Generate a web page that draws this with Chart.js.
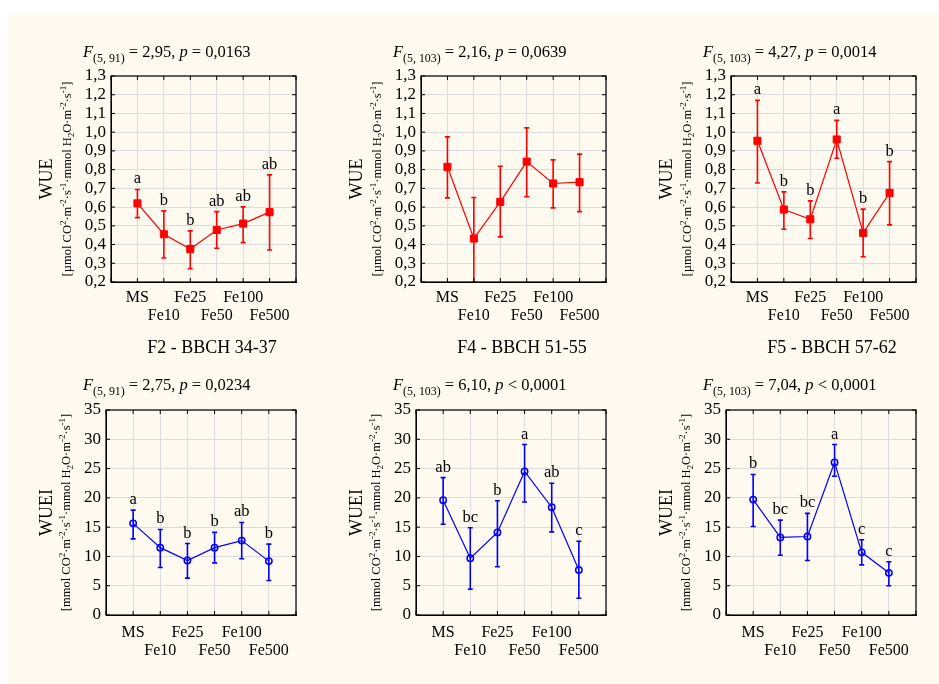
<!DOCTYPE html>
<html>
<head>
<meta charset="utf-8">
<script src="https://cdn.jsdelivr.net/npm/chart.js@4.4.1/dist/chart.umd.min.js"></script>
<style>
  body { margin: 0; background: #fff; width: 939px; height: 684px; position: relative; overflow: hidden; }
  #bg { position: absolute; left: 8px; top: 13px; width: 931px; height: 671px; background: #fefaf0; }
  canvas { position: absolute; }
</style>
</head>
<body>
<div id="bg"></div>
<canvas id="wueF2" width="310" height="335" style="left:0px;top:0px"></canvas>
<canvas id="wueF4" width="310" height="335" style="left:310px;top:0px"></canvas>
<canvas id="wueF5" width="310" height="335" style="left:620px;top:0px"></canvas>
<canvas id="wueiF2" width="310" height="349" style="left:0px;top:335px"></canvas>
<canvas id="wueiF4" width="310" height="349" style="left:310px;top:335px"></canvas>
<canvas id="wueiF5" width="310" height="349" style="left:620px;top:335px"></canvas>
<script>
const categories = ['MS', 'Fe10', 'Fe25', 'Fe50', 'Fe100', 'Fe500'];
const stages = ['F2 - BBCH 34-37', 'F4 - BBCH 51-55', 'F5 - BBCH 57-62'];

const wueTicks = [0.2, 0.3, 0.4, 0.5, 0.6, 0.7, 0.8, 0.9, 1.0, 1.1, 1.2, 1.3];
const wueiTicks = [0, 5, 10, 15, 20, 25, 30, 35];

// WUE (top row): means, lower / upper ends of the bars, group letters
const wueF2 = [0.62, 0.455, 0.376, 0.478, 0.512, 0.573];
const wueF2Lo = [0.544, 0.328, 0.271, 0.38, 0.41, 0.371];
const wueF2Hi = [0.694, 0.58, 0.473, 0.576, 0.601, 0.772];
const wueF2Groups = ['a', 'b', 'b', 'ab', 'ab', 'ab'];

const wueF4 = [0.815, 0.432, 0.628, 0.843, 0.726, 0.733];
const wueF4Lo = [0.649, 0.2, 0.441, 0.655, 0.596, 0.576];
const wueF4Hi = [0.975, 0.651, 0.818, 1.023, 0.852, 0.883];
const wueF4Groups = ['', '', '', '', '', ''];

const wueF5 = [0.954, 0.587, 0.535, 0.961, 0.462, 0.676];
const wueF5Lo = [0.729, 0.482, 0.432, 0.861, 0.335, 0.505];
const wueF5Hi = [1.17, 0.681, 0.633, 1.063, 0.589, 0.843];
const wueF5Groups = ['a', 'b', 'b', 'a', 'b', 'b'];

// WUEi (bottom row)
const wueiF2 = [15.65, 11.5, 9.3, 11.5, 12.7, 9.2];
const wueiF2Lo = [13.0, 8.1, 6.3, 8.9, 9.6, 5.9];
const wueiF2Hi = [17.9, 14.6, 12.2, 14.1, 15.8, 12.1];
const wueiF2Groups = ['a', 'b', 'b', 'b', 'ab', 'b'];

const wueiF4 = [19.6, 9.7, 14.1, 24.5, 18.4, 7.7];
const wueiF4Lo = [15.5, 4.4, 8.25, 19.3, 14.2, 2.85];
const wueiF4Hi = [23.45, 14.9, 19.5, 29.1, 22.5, 12.6];
const wueiF4Groups = ['ab', 'bc', 'b', 'a', 'ab', 'c'];

const wueiF5 = [19.7, 13.25, 13.4, 26.05, 10.7, 7.2];
const wueiF5Lo = [15.1, 10.2, 9.3, 23.7, 8.55, 5.0];
const wueiF5Hi = [24.0, 16.2, 17.35, 29.1, 12.85, 9.1];
const wueiF5Groups = ['b', 'bc', 'bc', 'a', 'c', 'c'];

// ANOVA results
const wueDf = ['5, 91', '5, 103', '5, 103'];
const wueF = ['2,95', '2,16', '4,27'];
const wueP = ['= 0,0163', '= 0,0639', '= 0,0014'];
const wueiDf = ['5, 91', '5, 103', '5, 103'];
const wueiF = ['2,75', '6,10', '7,04'];
const wueiP = ['= 0,0234', '< 0,0001', '< 0,0001'];

const SERIF = '"Liberation Serif", "Times New Roman", serif';
const gridColor = '#dcdcdc';

// draw text made of pieces: [text, kind] kind = n | i | sub | sup
function richWidth(ctx, segs, size) {
  let w = 0;
  segs.forEach(([t, k]) => {
    const fs = (k === 'sub' || k === 'sup') ? size * 0.72 : size;
    ctx.font = (k === 'i' ? 'italic ' : '') + fs + 'px ' + SERIF;
    w += ctx.measureText(t).width;
  });
  return w;
}
function drawRich(ctx, segs, x, y, size) {
  let cx = x;
  segs.forEach(([t, k]) => {
    let fs = size, dy = 0;
    if (k === 'sub') { fs = size * 0.72; dy = size * 0.33; }
    if (k === 'sup') { fs = size * 0.72; dy = -size * 0.38; }
    ctx.font = (k === 'i' ? 'italic ' : '') + fs + 'px ' + SERIF;
    ctx.fillText(t, cx, y + dy);
    cx += ctx.measureText(t).width;
  });
}

function unitSegs(first) {
  return [[first + ' CO', 'n'], ['2', 'sup'], ['·m', 'n'], ['-2', 'sup'], ['·s', 'n'], ['-1', 'sup'],
    ['·mmol H', 'n'], ['2', 'sub'], ['O·m', 'n'], ['-2', 'sup'], ['·s', 'n'], ['-1', 'sup'], [']', 'n']];
}

function makePanel(id, p) {
  const step = Math.round((p.ticks[1] - p.ticks[0]) * 1000) / 1000;
  const panel = {
    id: 'panel',
    beforeDatasetsDraw(chart) {
      const ctx = chart.ctx, a = chart.chartArea, xs = chart.scales.x, ys = chart.scales.y;
      ctx.save();
      ctx.beginPath();
      ctx.rect(a.left, a.top, a.right - a.left, a.bottom - a.top);
      ctx.clip();
      ctx.strokeStyle = p.color;
      ctx.lineWidth = 1.6;
      p.lo.forEach((lo, i) => {
        const x = xs.getPixelForValue(i + 1);
        const y1 = ys.getPixelForValue(lo), y2 = ys.getPixelForValue(p.hi[i]);
        ctx.beginPath();
        ctx.moveTo(x, y1); ctx.lineTo(x, y2);
        ctx.moveTo(x - 2.5, y1); ctx.lineTo(x + 2.5, y1);
        ctx.moveTo(x - 2.5, y2); ctx.lineTo(x + 2.5, y2);
        ctx.stroke();
      });
      ctx.restore();
    },
    afterDraw(chart) {
      const ctx = chart.ctx, a = chart.chartArea, xs = chart.scales.x, ys = chart.scales.y;
      ctx.save();
      // frame and inner tick marks
      ctx.strokeStyle = '#000';
      ctx.lineWidth = 1.2;
      ctx.strokeRect(a.left, a.top, a.right - a.left, a.bottom - a.top);
      ctx.lineWidth = 1;
      ctx.beginPath();
      ys.ticks.forEach(t => {
        const y = ys.getPixelForValue(t.value);
        ctx.moveTo(a.left, y); ctx.lineTo(a.left + 4, y);
        ctx.moveTo(a.right - 4, y); ctx.lineTo(a.right, y);
      });
      xs.ticks.forEach(t => {
        const x = xs.getPixelForValue(t.value);
        ctx.moveTo(x, a.bottom); ctx.lineTo(x, a.bottom - 4);
        ctx.moveTo(x, a.top); ctx.lineTo(x, a.top + 4);
      });
      ctx.stroke();

      // group letters
      ctx.fillStyle = '#000';
      ctx.textAlign = 'center';
      ctx.textBaseline = 'alphabetic';
      ctx.font = '16.5px ' + SERIF;
      p.groups.forEach((g, i) => {
        if (!g) return;
        ctx.fillText(g, xs.getPixelForValue(i + 1), ys.getPixelForValue(p.hi[i]) - 6);
      });

      // stats line
      ctx.textAlign = 'left';
      drawRich(ctx, [['F', 'i'], ['(' + p.df + ')', 'sub'], [' = ' + p.f + ', ', 'n'], ['p', 'i'], [' ' + p.p, 'n']],
        83, p.statY, 16.5);

      // stage caption
      if (p.caption) {
        ctx.textAlign = 'center';
        ctx.font = '18px ' + SERIF;
        ctx.fillText(p.caption, 212, 18);
      }

      // y titles
      ctx.textAlign = 'left';
      ctx.textBaseline = 'middle';
      const cy = (a.top + a.bottom) / 2;
      ctx.save();
      ctx.translate(47, cy);
      ctx.rotate(-Math.PI / 2);
      ctx.font = '18px ' + SERIF;
      const tw = ctx.measureText(p.yTitle).width;
      ctx.fillText(p.yTitle, -tw / 2, 0);
      ctx.restore();
      ctx.save();
      ctx.translate(p.unitX, cy);
      ctx.rotate(-Math.PI / 2);
      const segs = unitSegs(p.unitFirst);
      const uw = richWidth(ctx, segs, 12.5);
      drawRich(ctx, segs, -uw / 2, 0, 12.5);
      ctx.restore();
      ctx.restore();
    }
  };

  new Chart(document.getElementById(id), {
    type: 'line',
    data: {
      datasets: [{
        data: p.mean.map((v, i) => ({ x: i + 1, y: v })),
        borderColor: p.color,
        borderWidth: 1.2,
        pointStyle: p.marker,
        pointRadius: p.radius,
        pointBackgroundColor: p.fill,
        pointBorderColor: p.color,
        pointBorderWidth: p.pointBorder,
        tension: 0
      }]
    },
    options: {
      responsive: false,
      animation: false,
      devicePixelRatio: 1,
      layout: { padding: { left: 0, right: 14, top: p.top, bottom: 0 } },
      plugins: { legend: { display: false }, tooltip: { enabled: false } },
      scales: {
        x: {
          type: 'linear',
          min: 0,
          max: categories.length + 1,
          afterFit: s => { s.height = p.xHeight; },
          grid: { color: gridColor, drawTicks: false },
          border: { color: '#000', width: 1 },
          ticks: {
            stepSize: 1, autoSkip: false, maxRotation: 0, padding: p.xPad, color: '#000',
            font: { family: SERIF, size: 16, lineHeight: 1.1 },
            callback: v => {
              const i = v - 1;
              if (i < 0 || i >= categories.length) return '';
              return i % 2 === 0 ? [categories[i], ''] : ['', categories[i]];
            }
          }
        },
        y: {
          min: p.ticks[0],
          max: p.ticks[p.ticks.length - 1],
          afterFit: s => { s.width = p.yWidth; },
          grid: { color: gridColor, drawTicks: false },
          border: { color: '#000', width: 1 },
          ticks: {
            stepSize: step, autoSkip: false, padding: 5, color: '#000',
            font: { family: SERIF, size: 17 },
            callback: v => p.fmt(v)
          }
        }
      }
    },
    plugins: [panel]
  });
}

const wueFmt = v => v.toFixed(1).replace('.', ',');
const wueiFmt = v => String(v);

const topRow = [
  ['wueF2', wueF2, wueF2Lo, wueF2Hi, wueF2Groups],
  ['wueF4', wueF4, wueF4Lo, wueF4Hi, wueF4Groups],
  ['wueF5', wueF5, wueF5Lo, wueF5Hi, wueF5Groups]
];
topRow.forEach(([id, mean, lo, hi, groups], c) => {
  makePanel(id, {
    mean, lo, hi, groups, ticks: wueTicks, fmt: wueFmt,
    color: '#ff0000', marker: 'rect', radius: 5, fill: '#ff0000', pointBorder: 1,
    top: 76, xHeight: 53, yWidth: 111, xPad: 7,
    df: wueDf[c], f: wueF[c], p: wueP[c], statY: 57,
    yTitle: 'WUE', unitFirst: '[µmol', unitX: 68
  });
});

const bottomRow = [
  ['wueiF2', wueiF2, wueiF2Lo, wueiF2Hi, wueiF2Groups],
  ['wueiF4', wueiF4, wueiF4Lo, wueiF4Hi, wueiF4Groups],
  ['wueiF5', wueiF5, wueiF5Lo, wueiF5Hi, wueiF5Groups]
];
bottomRow.forEach(([id, mean, lo, hi, groups], c) => {
  makePanel(id, {
    mean, lo, hi, groups, ticks: wueiTicks, fmt: wueiFmt,
    color: '#0000ff', marker: 'circle', radius: 3.2, fill: 'rgba(0,0,0,0)', pointBorder: 1.5,
    top: 75, xHeight: 69, yWidth: 106, xPad: 9,
    df: wueiDf[c], f: wueiF[c], p: wueiP[c], statY: 55,
    yTitle: 'WUEI', unitFirst: '[mmol', unitX: 67, caption: stages[c]
  });
});
</script>
</body>
</html>
